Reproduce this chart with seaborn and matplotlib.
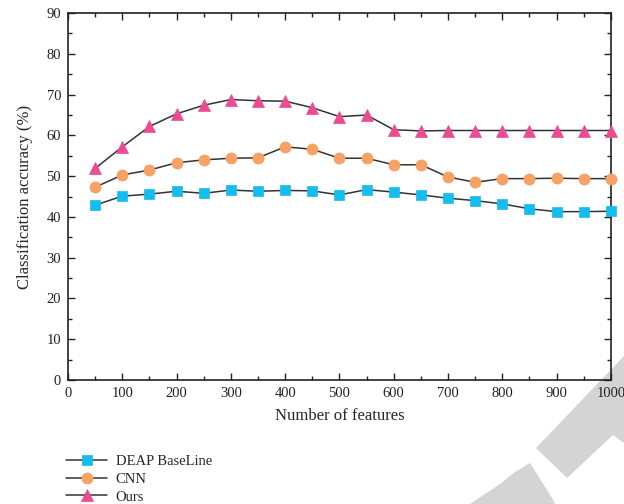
import matplotlib
matplotlib.use("Agg")
import matplotlib.pyplot as plt
from matplotlib.patches import Polygon
from matplotlib.ticker import MultipleLocator
import seaborn as sns
import pandas as pd

# Number of selected features
features = [50, 100, 150, 200, 250, 300, 350, 400, 450, 500,
            550, 600, 650, 700, 750, 800, 850, 900, 950, 1000]

# Classification accuracy (%) for each method
deap_baseline = [42.9, 45.1, 45.6, 46.3, 45.8, 46.6, 46.3, 46.5, 46.4, 45.4,
                 46.7, 46.1, 45.4, 44.6, 44.0, 43.2, 42.0, 41.3, 41.3, 41.4]
cnn = [47.3, 50.3, 51.5, 53.3, 54.0, 54.4, 54.5, 57.2, 56.6, 54.4,
       54.4, 52.8, 52.8, 49.8, 48.5, 49.4, 49.4, 49.5, 49.4, 49.4]
ours = [51.9, 57.2, 62.2, 65.3, 67.4, 68.8, 68.5, 68.4, 66.8, 64.6,
        65.0, 61.4, 61.1, 61.2, 61.2, 61.2, 61.2, 61.2, 61.2, 61.2]

series_names = ["DEAP BaseLine", "CNN", "Ours"]
series_values = [deap_baseline, cnn, ours]
marker_colors = ["#14bdef", "#f7a163", "#ec4b94"]
marker_shapes = ["s", "o", "^"]
marker_sizes = [7, 8, 8.5]

x_ticks = list(range(0, 1001, 100))
y_ticks = list(range(0, 91, 10))

sns.set_theme(style="ticks")
plt.rcParams["font.family"] = ["Liberation Serif", "DejaVu Serif"]
plt.rcParams["font.size"] = 10.5

fig = plt.figure(figsize=(6.24, 5.04), dpi=100)
ax = fig.add_axes([0.109, 0.246, 0.870, 0.728])
ax.set_facecolor("none")

for name, vals, col, mk, ms in zip(series_names, series_values,
                                   marker_colors, marker_shapes, marker_sizes):
    df = pd.DataFrame({"features": features, "acc": vals})
    sns.lineplot(data=df, x="features", y="acc", ax=ax, color="#333333",
                 linewidth=1.1, marker=mk, markersize=ms,
                 markerfacecolor=col, markeredgecolor=col,
                 markeredgewidth=0.5, label=name, clip_on=False, zorder=3)

ax.set_xlim(0, 1000)
ax.set_ylim(0, 90)
ax.set_xticks(x_ticks)
ax.set_yticks(y_ticks)
ax.xaxis.set_minor_locator(MultipleLocator(50))
ax.yaxis.set_minor_locator(MultipleLocator(5))
ax.tick_params(which="both", direction="in", top=True, right=True,
               width=1.0, colors="#222222", labelsize=10.5, pad=5)
ax.tick_params(which="major", length=5)
ax.tick_params(which="minor", length=3)
for sp in ax.spines.values():
    sp.set_linewidth(1.2)
    sp.set_color("#222222")

ax.set_xlabel("Number of features", fontsize=12, labelpad=6)
ax.set_ylabel("Classification accuracy (%)", fontsize=12, labelpad=10)

handles, labels = ax.get_legend_handles_labels()
ax.get_legend().remove()
fig.legend(handles, labels, loc="upper left", bbox_to_anchor=(0.106, 0.098),
           frameon=False, borderpad=0, borderaxespad=0, handlelength=2.8,
           handletextpad=0.6, labelspacing=0.32, fontsize=10.5)

# light grey watermark shapes in the lower right corner (pixel outlines)
grey = "#d4d4d4"
band_px = [(624, 356), (536, 448), (567, 478), (613, 435), (624, 443)]
wedge_px = [(470, 504), (485, 494), (500, 484), (515, 472), (530, 463),
            (552, 498), (555, 504)]
for outline in (band_px, wedge_px):
    fig.patches.append(Polygon(
        [(x / 624, 1 - y / 504) for x, y in outline],
        closed=True, transform=fig.transFigure, facecolor=grey,
        edgecolor="none", zorder=-1))

fig.savefig("out.png", dpi=100)
